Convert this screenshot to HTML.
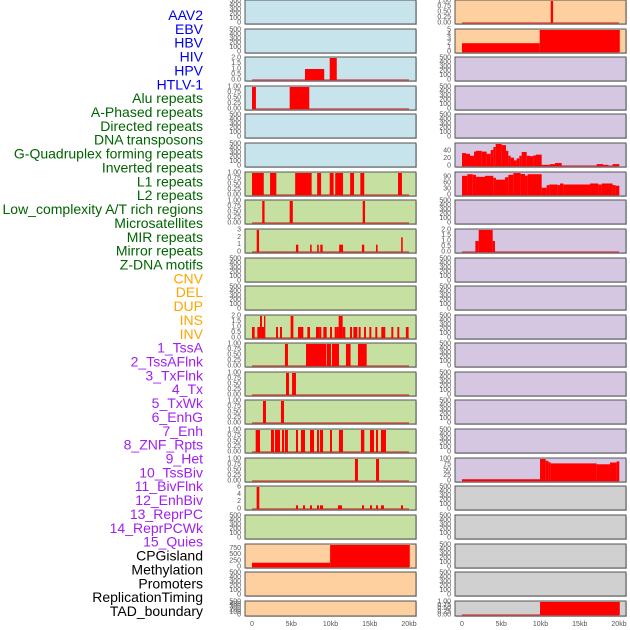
<!DOCTYPE html>
<html><head><meta charset="utf-8">
<style>
html,body{margin:0;padding:0;background:#fff;}
svg{display:block;font-family:"Liberation Sans",sans-serif;}
</style></head>
<body>
<svg id="chart" width="630" height="630" viewBox="0 0 630 630"></svg>
<script>
// ---------- data ----------
const trackLabels = ["AAV2","EBV","HBV","HIV","HPV","HTLV-1","Alu repeats","A-Phased repeats","Directed repeats","DNA transposons","G-Quadruplex forming repeats","Inverted repeats","L1 repeats","L2 repeats","Low_complexity A/T rich regions","Microsatellites","MIR repeats","Mirror repeats","Z-DNA motifs","CNV","DEL","DUP","INS","INV","1_TssA","2_TssAFlnk","3_TxFlnk","4_Tx","5_TxWk","6_EnhG","7_Enh","8_ZNF_Rpts","9_Het","10_TssBiv","11_BivFlnk","12_EnhBiv","13_ReprPC","14_ReprPCWk","15_Quies","CPGisland","Methylation","Promoters","ReplicationTiming","TAD_boundary"];
const labelGroups = ["v","v","v","v","v","v","r","r","r","r","r","r","r","r","r","r","r","r","r","c","c","c","c","c","h","h","h","h","h","h","h","h","h","h","h","h","h","h","h","k","k","k","k","k"];
const xTickValues = [0,5,10,15,20];
const xTickLabels = ["0","5kb","10kb","15kb","20kb"];

const ticksEmpty = [0,100,200,300,400,500];
const ticksUnit = [0,0.25,0.5,0.75,1];
const ticksHalf = [0,0.5,1,1.5,2];

const hivBars = [[6.75,9.2,1],[9.9,10.8,2]];
const left4Bars = [[0,0.5,1],[4.8,7.3,1]];
const l1Bars = [[0,1.5,1],[2.3,3.1,1],[5.5,7.6,1],[8.3,8.8,1],[9.9,10.4,1],[10.6,11.6,1],[12.5,13,1],[13.8,14.3,1],[18.6,19.1,1]];
const left8Bars = [[1.3,1.6,1],[4.8,5.2,1],[14.1,14.4,1]];
const left9Bars = [[0.6,0.9,3],[5.6,5.9,1],[7.4,7.6,1],[8.3,8.5,1],[8.7,9.0,1],[11.1,11.6,1],[14.0,14.3,1],[15.8,16.0,1],[19.0,19.2,2]];
const insBars = [[0,0.34,1],[0.68,1.02,1],[1.02,1.27,2],[1.27,1.53,1],[1.53,1.70,2],[3.06,3.31,1],[3.57,3.82,1],[4.92,5.27,2],[5.86,6.11,1],[6.11,6.54,1],[7.05,7.39,1],[8.15,8.58,1],[8.58,8.83,1],[9.09,9.51,1],[9.94,10.19,1],[10.53,10.78,1],[10.78,11.04,1],[11.04,11.55,2],[11.55,11.89,1],[12.48,12.74,1],[12.91,13.42,1],[13.59,13.84,1],[14.27,14.52,1],[14.95,15.2,1],[15.71,15.96,1],[16.47,16.98,1],[17.75,18.0,1],[18.51,18.76,1],[19.6,19.95,1]];
const tssABars = [[4.2,4.58,1],[6.88,9.43,1],[9.51,10.06,1],[10.19,11.08,1],[11.97,12.56,1],[13.5,14.61,1]];
const left14Bars = [[4.33,4.71,1],[5.1,5.6,1]];
const left15Bars = [[1.4,1.78,1],[3.69,4.08,1]];
const left16Bars = [[0.47,1.02,1],[2.42,2.8,1],[2.93,3.57,1],[3.82,4.08,1],[4.2,4.58,1],[5.6,5.86,1],[6.24,6.75,1],[7.39,7.9,1],[8.28,8.53,1],[8.66,9.05,1],[9.94,10.19,1],[11.08,11.59,1],[13.88,14.31,1],[15.03,15.54,1],[15.8,16.05,1],[16.43,17.07,1]];
const left17Bars = [[13.12,13.5,1],[15.8,16.18,1]];
const left18Bars = [[0.59,0.93,6],[5.6,5.86,1],[6.5,6.75,1],[7.39,7.64,1],[8.28,8.53,1],[8.66,9.05,1],[10.95,11.46,1],[14.01,14.27,1],[15.03,15.29,1],[15.8,16.05,1],[16.43,16.81,1],[18.98,19.24,1]];
const cpgBars = [[0,9.95,170],[9.95,20.1,880]];

const right1Bars = [[11.3,11.6,1]];
const right2Bars = [[0,9.9,2],[9.9,20.1,5]];
const right6Bars = [[0,0.51,34],[0.51,1.02,32],[1.02,1.53,27],[1.53,1.78,38],[1.78,2.51,40],[2.51,3.14,38],[3.14,3.65,32],[3.65,3.99,42],[3.99,4.29,50],[4.29,5.05,58],[5.05,5.6,55],[5.6,5.9,40],[5.9,6.2,27],[6.2,6.62,22],[6.62,6.96,15],[6.96,7.3,20],[7.3,7.6,27],[7.6,8.24,37],[8.24,8.66,27],[8.66,9.09,26],[9.09,9.43,28],[9.43,10.15,30],[10.15,11.21,3],[11.21,11.85,5],[11.85,12.7,8],[17.15,18.0,5],[18.0,18.64,3],[19.19,20.04,5]];
const right7Bars = [[0,0.68,95],[0.68,1.36,103],[1.36,1.78,100],[1.78,2.93,90],[2.93,3.99,95],[3.99,4.33,85],[4.33,5.48,76],[5.48,5.9,88],[5.9,6.54,100],[6.54,7.47,109],[7.47,8.03,104],[8.03,8.36,96],[8.36,10.15,103],[10.15,10.78,36],[10.78,11.12,49],[11.12,12.19,52],[12.19,12.48,49],[12.48,12.91,57],[12.91,16.31,52],[16.31,17.37,57],[17.37,17.79,52],[17.79,19.19,57],[19.19,19.57,49],[19.57,20.04,46]];
const right9Bars = [[1.7,2.13,1],[2.13,3.91,2],[3.91,4.2,1]];
const right17Bars = [[0,9.94,8],[9.94,10.66,100],[10.66,11.0,92],[11.0,11.3,85],[11.3,17.15,80],[17.15,18.85,76],[18.85,19.7,84],[19.7,20.04,89]];
const right22Bars = [[9.94,20.1,1]];

// panel rows
const panelTops = [0,29,57,86,114,143,172,200,229,258,286,315,343,372,400,429,458,486,515,544,572,601];
const BLUE="#c7e3eb", GREEN="#c6e0a2", PEACH="#fecf9f", PURPLE="#d5c6e2", GREY="#d0d0d0";
const leftPanels = [
 {bg:BLUE},{bg:BLUE},
 {bg:BLUE,bars:hivBars,max:2,ticks:ticksHalf},
 {bg:BLUE,bars:left4Bars,max:1,ticks:ticksUnit},
 {bg:BLUE},{bg:BLUE},
 {bg:GREEN,bars:l1Bars,max:1,ticks:ticksUnit},
 {bg:GREEN,bars:left8Bars,max:1,ticks:ticksUnit},
 {bg:GREEN,bars:left9Bars,max:3,ticks:[0,1,2,3]},
 {bg:GREEN},{bg:GREEN},
 {bg:GREEN,bars:insBars,max:2,ticks:ticksHalf},
 {bg:GREEN,bars:tssABars,max:1,ticks:ticksUnit},
 {bg:GREEN,bars:left14Bars,max:1,ticks:ticksUnit},
 {bg:GREEN,bars:left15Bars,max:1,ticks:ticksUnit},
 {bg:GREEN,bars:left16Bars,max:1,ticks:ticksUnit},
 {bg:GREEN,bars:left17Bars,max:1,ticks:ticksUnit},
 {bg:GREEN,bars:left18Bars,max:6,ticks:[0,2,4,6]},
 {bg:GREEN},
 {bg:PEACH,bars:cpgBars,max:880,ticks:[0,250,500,750]},
 {bg:PEACH},{bg:PEACH}
];
const rightPanels = [
 {bg:PEACH,bars:right1Bars,max:1,ticks:ticksUnit},
 {bg:PEACH,bars:right2Bars,max:5,ticks:[0,1,2,3,4,5]},
 {bg:PURPLE},{bg:PURPLE},{bg:PURPLE},
 {bg:PURPLE,bars:right6Bars,max:58,ticks:[0,20,40]},
 {bg:PURPLE,bars:right7Bars,max:109,ticks:[0,30,60,90]},
 {bg:PURPLE},
 {bg:PURPLE,bars:right9Bars,max:2,ticks:ticksHalf},
 {bg:PURPLE},{bg:PURPLE},{bg:PURPLE},{bg:PURPLE},{bg:PURPLE},{bg:PURPLE},{bg:PURPLE},
 {bg:PURPLE,bars:right17Bars,max:100,ticks:[0,25,50,75,100]},
 {bg:GREY},{bg:GREY},{bg:GREY},{bg:GREY},
 {bg:GREY,bars:right22Bars,max:1,ticks:ticksUnit}
];

// ---------- drawing ----------
const NS="http://www.w3.org/2000/svg";
const svg=document.getElementById('chart');
function mk(tag,attrs,parent){const e=document.createElementNS(NS,tag);for(const k in attrs)e.setAttribute(k,attrs[k]);(parent||svg).appendChild(e);return e;}
const colorMap={v:"#0000ee",r:"#006400",c:"#ffa500",h:"#a020f0",k:"#000000"};

trackLabels.forEach((t,i)=>{
  const e=mk('text',{x:203,y:15+i*13.86,'text-anchor':'end','dominant-baseline':'central','font-size':14,fill:colorMap[labelGroups[i]]});
  e.textContent=t;
  
  
});

function fmt(v,ticks){
  if(ticks[ticks.length-1]<=1&&ticks.includes(0.25))return v.toFixed(2);
  if(ticks.includes(0.5)&&ticks[ticks.length-1]<=2)return v.toFixed(1);
  return String(v);
}

function drawPanel(p,idx,col){
  const left=col===0?245:455, right=col===0?416:626;
  const x0=col===0?252:462, pxPerKb=7.85;
  const xs=kb=>x0+kb*pxPerKb;
  const top=panelTops[idx];
  const h=idx===21?15:24;
  const bottom=top+h;
  const g=mk('g',{});
  
  
  mk('rect',{x:left+1,y:top+1,width:right-left,height:h,fill:'#999',opacity:0.5},g);
  mk('rect',{x:left,y:top,width:right-left,height:h,fill:p.bg,stroke:'#555','stroke-width':1},g);
  const ticks=p.ticks||ticksEmpty;
  const max=p.max||500;
  const ys=v=>bottom-1-(v/max)*(h-2);
  ticks.forEach(t=>{
    const e=mk('text',{x:left-4,y:ys(t),'text-anchor':'end','dominant-baseline':'central','font-size':7,fill:'#555'},g);
    e.textContent=fmt(t,ticks);
    
    
  });
  if(p.bars){
    mk('line',{x1:xs(0),x2:xs(20),y1:bottom-1,y2:bottom-1,stroke:'rgba(200,0,0,0.45)','stroke-width':2},g);
    p.bars.forEach(b=>{
      const r=mk('rect',{x:xs(b[0]),y:ys(b[2]),width:Math.max(1,xs(b[1])-xs(b[0])),height:bottom-1-ys(b[2]),fill:'#ff0000'},g);
      
      
    });
  }
}
leftPanels.forEach((p,i)=>drawPanel(p,i,0));
rightPanels.forEach((p,i)=>drawPanel(p,i,1));

[0,1].forEach(col=>{
  const x0=col===0?252:462;
  xTickValues.forEach((v,i)=>{
    const e=mk('text',{x:x0+v*7.85,y:626,'text-anchor':'middle','font-size':7,fill:'#555'});
    e.textContent=xTickLabels[i];
    
    
  });
});
</script>
</body></html>
